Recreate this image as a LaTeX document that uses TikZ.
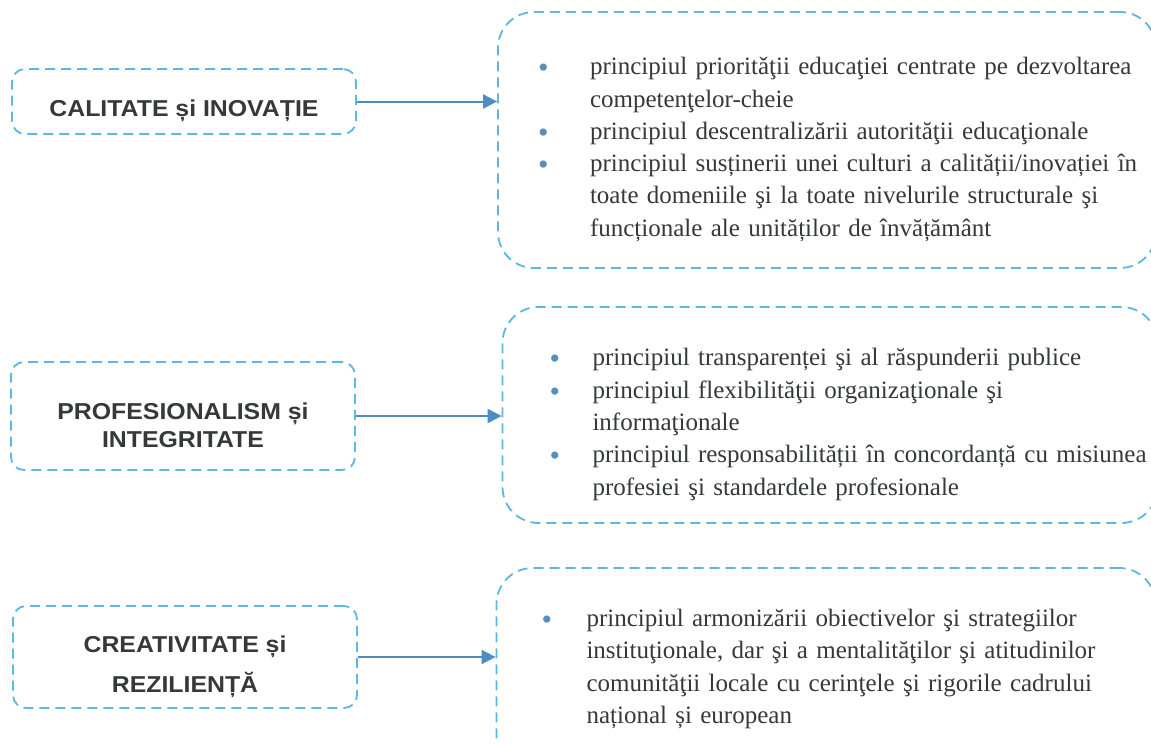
\documentclass[tikz,border=0pt]{standalone}
\usepackage{fontspec}
\setmainfont{Liberation Serif}
\newfontfamily\headfont[FakeStretch=1.08]{Liberation Sans}
\usetikzlibrary{arrows.meta,positioning}
\definecolor{dashblue}{HTML}{5BB8E2}
\definecolor{arrowblue}{HTML}{4E8DC3}
\definecolor{dotblue}{HTML}{5A8CBC}
\definecolor{inkgray}{HTML}{36383A}

\newlength\pind
\newcommand\pb{\makebox[\pind][l]{\raisebox{-3pt}{\textcolor{dotblue}{\fontsize{30}{30}\selectfont\textbullet}}}}
\newcommand\hstrut{\rule{0pt}{36pt}}

\begin{document}
\begin{tikzpicture}[x=1pt,y=-1pt,>={Triangle[length=14pt,width=14pt]},
 headbox/.style={draw=dashblue,line width=1.8pt,dash pattern=on 10pt off 6pt,
  rounded corners=13pt,minimum width=344pt,align=center,text=inkgray,
  font=\headfont\bfseries\fontsize{23}{28}\selectfont},
 listbox/.style={draw=dashblue,line width=1.8pt,dash pattern=on 10pt off 6pt,
  rounded corners=36pt,text=inkgray,font=\fontsize{25}{32.3}\selectfont},
 link/.style={->,draw=arrowblue,line width=2pt}]
 \useasboundingbox[fill=white] (0,0) rectangle (1151,744);
 % left column
 \node[headbox,minimum height=65pt] (calitate) at (184,101.5) {\hstrut CALITATE și INOVAȚIE};
 \node[headbox,minimum height=108pt] (profesie) at (183,416) {\hstrut PROFESIONALISM și\\INTEGRITATE};
 \node[headbox,minimum height=102pt] (creativ) at (185,657) {\hstrut CREATIVITATE și\\[12pt]REZILIENȚĂ};
 % right column
 \node[listbox,inner xsep=40pt,text width=578pt,minimum height=256pt] (princ1) at (827,140) {%
  \setlength\pind{52pt}%
  \begin{tabular}{@{}l@{}l@{}}\noalign{\vskip18pt}
  \pb & principiul prioritǎţii educaţiei centrate pe dezvoltarea\\
      & competenţelor-cheie\\
  \pb & principiul descentralizării autorităţii educaţionale\\
  \pb & principiul susținerii unei culturi a calității/inovației în\\
      & toate domeniile şi la toate nivelurile structurale şi\\
      & funcționale ale unităților de învățământ
  \end{tabular}};
 \node[listbox,inner xsep=47pt,text width=561pt,minimum height=216pt] (princ2) at (830,415) {%
  \setlength\pind{43pt}%
  \begin{tabular}{@{}l@{}l@{}}\noalign{\vskip18pt}
  \pb & principiul transparenței şi al răspunderii publice\\
  \pb & principiul flexibilităţii organizaţionale şi\\
      & informaţionale\\
  \pb & principiul responsabilității în concordanță cu misiunea\\
      & profesiei şi standardele profesionale
  \end{tabular}};
 \node[listbox,inner xsep=45pt,text width=569pt,minimum height=207pt] (princ3) at (826,671.5) {%
  \setlength\pind{45pt}%
  \begin{tabular}{@{}l@{}l@{}}
  \pb & principiul armonizării obiectivelor şi strategiilor\\
      & instituţionale, dar şi a mentalităţilor şi atitudinilor\\
      & comunităţii locale cu cerinţele şi rigorile cadrului\\
      & național și european\\\noalign{\vskip6pt}
  \end{tabular}};
 % links
 \draw[link] (calitate.east) -- (calitate.east -| princ1.west);
 \draw[link] (profesie.east) -- (profesie.east -| princ2.west);
 \draw[link] (creativ.east) -- (creativ.east -| princ3.west);
\end{tikzpicture}
\end{document}
